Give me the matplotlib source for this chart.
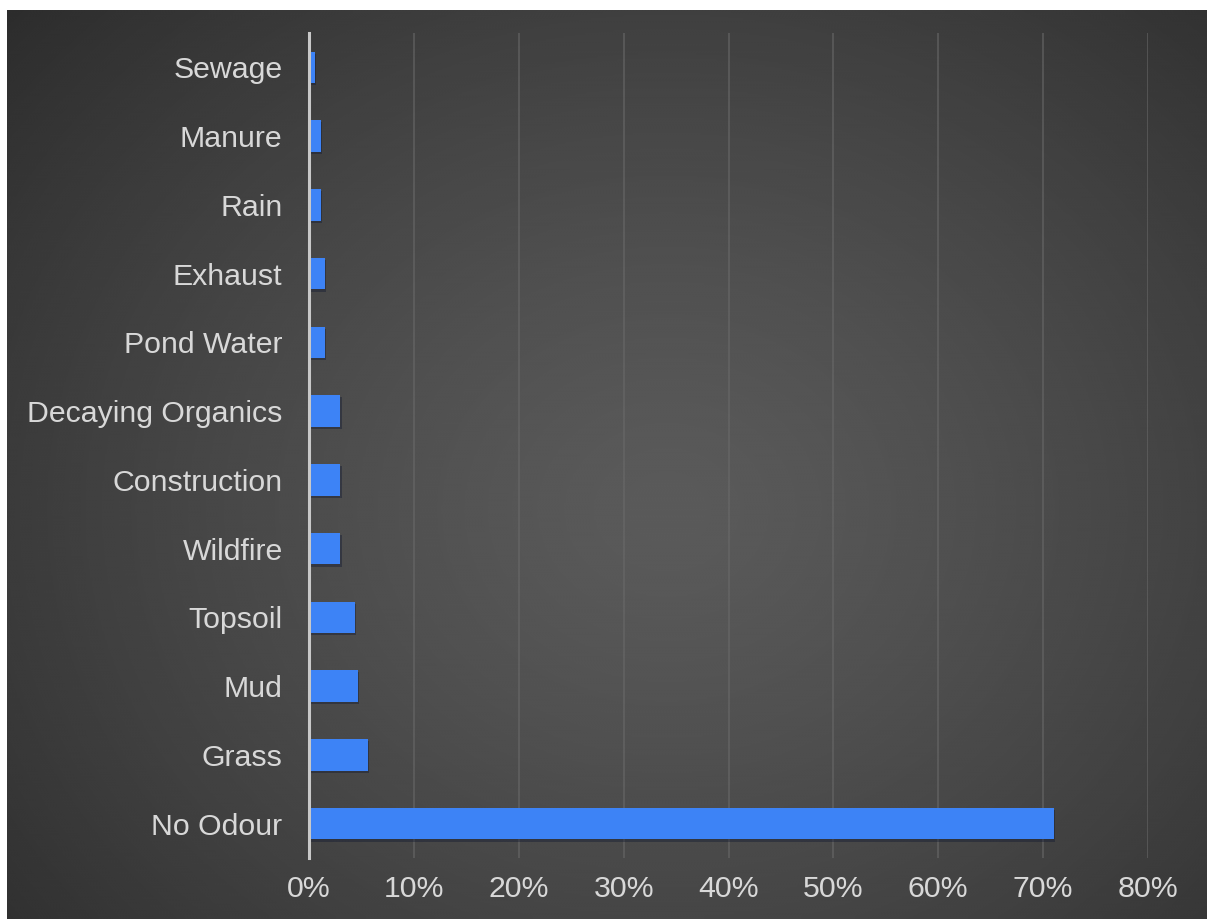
import numpy as np
import matplotlib
matplotlib.use('Agg')
import matplotlib.pyplot as plt
import matplotlib.patheffects as pe

plt.rcParams['font.family'] = ['Liberation Sans', 'DejaVu Sans']

# 数据（自上而下显示，列表按自下而上排列）
categories = ['No Odour', 'Grass', 'Mud', 'Topsoil', 'Wildfire', 'Construction',
              'Decaying Organics', 'Pond Water', 'Exhaust', 'Rain', 'Manure', 'Sewage']
shares = [71.0, 5.6, 4.7, 4.4, 3.0, 3.0, 3.0, 1.5, 1.5, 1.1, 1.1, 0.6]
x_ticks = [0, 10, 20, 30, 40, 50, 60, 70, 80]
x_ticklabels = [f'{t}%' for t in x_ticks]

W, H = 1207, 919
fig = plt.figure(figsize=(W / 100, H / 100), dpi=100, facecolor='white')

# 背景：径向渐变
bg = fig.add_axes([7 / W, 0, 1 - 7 / W, 1 - 10 / H])
bg.set_axis_off()
yy, xx = np.mgrid[0:1:600j, 0:1:800j]
r = np.sqrt(((xx - 0.55) / 0.8) ** 2 + ((yy - 0.55) / 0.9) ** 2)
light = np.clip(0.355 - 0.2 * r ** 1.3, 0.165, 0.36)
bg.imshow(light, cmap='gray', vmin=0, vmax=1, aspect='auto',
          extent=[0, 1, 0, 1], interpolation='bicubic')

ax = fig.add_axes([309 / W, 1 - 858 / H, (1148 - 309) / W, (858 - 33) / H])
ax.set_facecolor('none')

y = np.arange(len(categories))
bars = ax.barh(y, shares, height=0.46, color='#3d83f6', zorder=3)
for b in bars:
    b.set_path_effects([pe.SimplePatchShadow(offset=(0.8, -1.5), shadow_rgbFace='#101830', alpha=0.4),
                        pe.Normal()])

ax.set_xlim(0, 80)
ax.set_ylim(-0.5, len(categories) - 0.5)
ax.set_xticks(x_ticks)
ax.set_xticklabels(x_ticklabels)
ax.set_yticks(y)
ax.set_yticklabels(categories)
ax.tick_params(axis='both', length=0, colors='#d8d8d8', labelsize=21.8)
ax.tick_params(axis='y', pad=19)
ax.tick_params(axis='x', pad=12)

ax.grid(True, axis='x', color='#6a6a6a', linewidth=1.3, alpha=0.6, zorder=1)
for side in ['top', 'right', 'bottom']:
    ax.spines[side].set_visible(False)
ax.spines['left'].set_color('#c8c8c8')
ax.spines['left'].set_linewidth(2.2)
ax.spines['left'].set_zorder(4)

plt.savefig('out.png', dpi=100, facecolor='white')
plt.close()
